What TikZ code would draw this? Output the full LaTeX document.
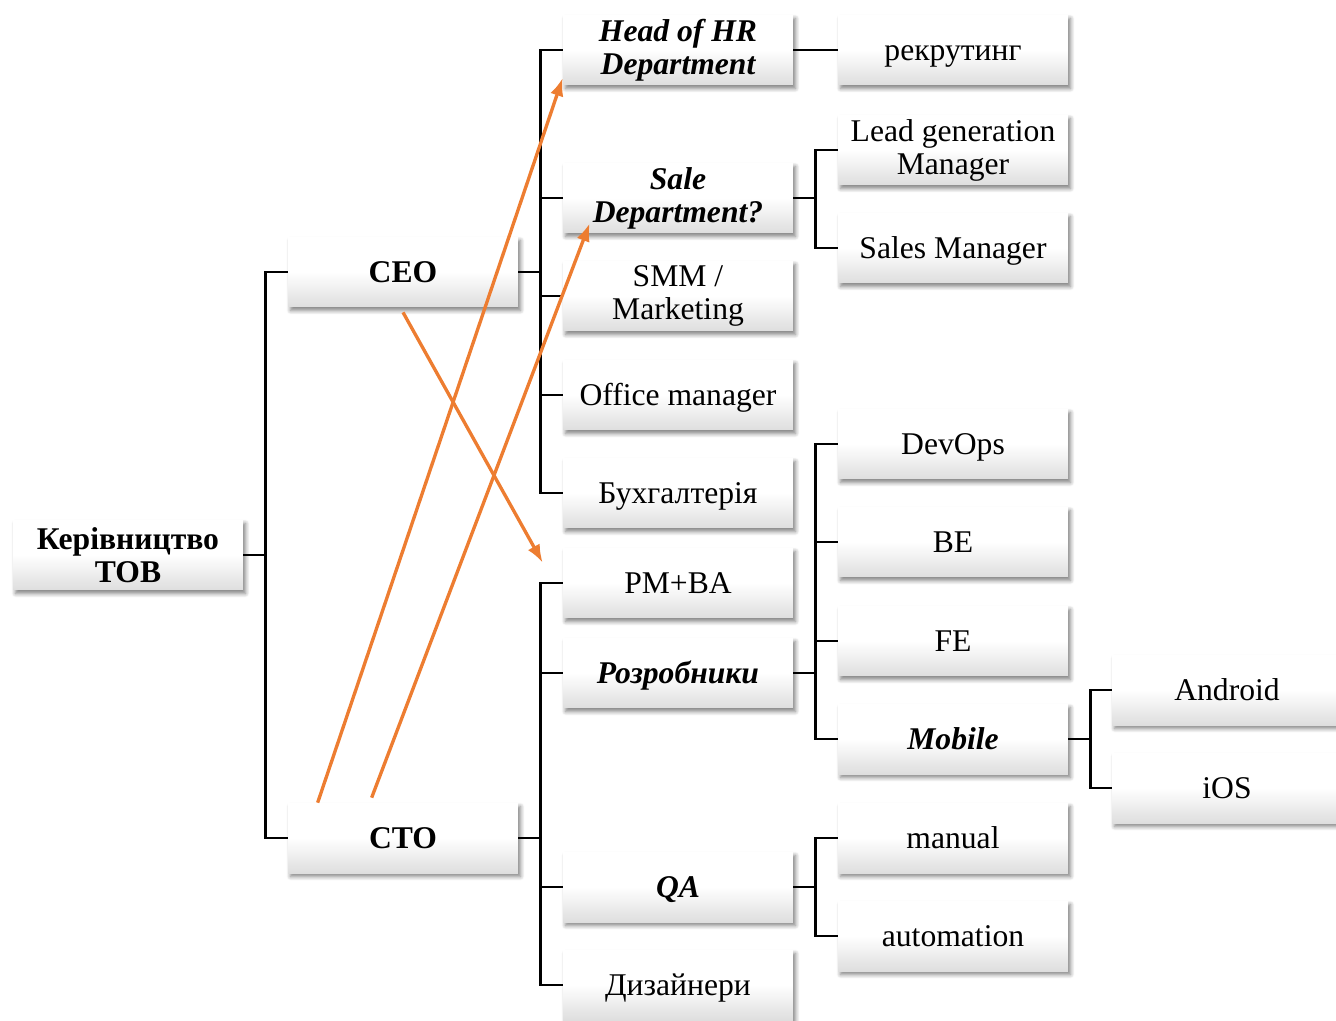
\documentclass[tikz,border=0pt]{standalone}
\usepackage{fontspec}
\setmainfont{Liberation Serif}
\usepackage{xcolor}
\usetikzlibrary{shadows,shadows.blur,calc,arrows.meta}
\definecolor{arrorange}{RGB}{237,125,49}

\begin{document}
\begin{tikzpicture}[x=0.02cm, y=-0.02cm,
  box/.style={minimum width=4.6cm, minimum height=1.4cm, inner sep=0pt, align=center,
    top color=white, bottom color=black!13, middle color=white,
    blur shadow={shadow xshift=0.05cm, shadow yshift=-0.07cm, shadow blur radius=0.08cm, shadow blur steps=6, shadow opacity=50},
    text height=16pt, text depth=4pt,
    font=\fontsize{18}{18.8}\selectfont},
  twoline/.style={text height=, text depth=},
  bbox/.style={box, font=\fontsize{18}{18.8}\selectfont\bfseries},
  ibox/.style={box, font=\fontsize{18}{18.8}\selectfont\bfseries\itshape},
  link/.style={line width=1.5pt},
  arr/.style={draw=arrorange, line width=1.9pt, -{Latex[length=0.36cm, width=0.27cm]}}]
  \useasboundingbox (0,0) rectangle (1336,1021);

  % Top
  \node[bbox, twoline] (top) at (128,555) {Керівництво\\ТОВ};
  \node[bbox] (ceo) at (403,272) {CEO};
  \node[bbox] (cto) at (403,838) {CTO};

  % CEO branch
  \node[ibox, twoline] (hr) at (678,50) {Head of HR\\Department};
  \node[ibox, twoline] (sale) at (678,198) {Sale\\Department?};
  \node[box, twoline] (smm) at (678,296) {SMM /\\Marketing};
  \node[box] (office) at (678,395) {Office manager};
  \node[box] (buh) at (678,493) {Бухгалтерія};

  % CTO branch
  \node[box] (pm) at (678,583) {PM+BA};
  \node[ibox] (dev) at (678,673) {Розробники};
  \node[ibox] (qa) at (678,887) {QA};
  \node[box] (diz) at (678,985) {Дизайнери};

  % Third column
  \node[box] (rec) at (953,50) {рекрутинг};
  \node[box, twoline] (lead) at (953,150) {Lead generation\\Manager};
  \node[box] (sales) at (953,248) {Sales Manager};
  \node[box] (devops) at (953,444) {DevOps};
  \node[box] (be) at (953,542) {BE};
  \node[box] (fe) at (953,641) {FE};
  \node[ibox] (mob) at (953,739) {Mobile};
  \node[box] (manual) at (953,838) {manual};
  \node[box] (auto) at (953,936) {automation};

  % Mobile
  \node[box] (andr) at (1227,690) {Android};
  \node[box] (ios) at (1227,788) {iOS};

  % Links
  \foreach \n in {ceo,cto}
    \draw[link] (top.east) -- ++(22,0) |- (\n.west);
  \foreach \n in {hr,sale,smm,office,buh}
    \draw[link] (ceo.east) -- ++(22,0) |- (\n.west);
  \foreach \n in {pm,dev,qa,diz}
    \draw[link] (cto.east) -- ++(22,0) |- (\n.west);
  \draw[link] (hr.east) -- (rec.west);
  \foreach \n in {lead,sales}
    \draw[link] (sale.east) -- ++(22,0) |- (\n.west);
  \foreach \n in {devops,be,fe,mob}
    \draw[link] (dev.east) -- ++(22,0) |- (\n.west);
  \foreach \n in {manual,auto}
    \draw[link] (qa.east) -- ++(22,0) |- (\n.west);
  \foreach \n in {andr,ios}
    \draw[link] (mob.east) -- ++(22,0) |- (\n.west);

  % Orange arrows
  \draw[arr] ([xshift=0.6cm]cto.north west) -- ([yshift=-0.56cm]hr.west);
  \draw[arr] ([xshift=1.68cm,yshift=0.1cm]cto.north west) -- ([xshift=0.54cm,yshift=0.2cm]sale.south west);
  \draw[arr] ([yshift=-0.1cm]ceo.south) -- ([xshift=-0.4cm,yshift=-0.3cm]pm.north west);
\end{tikzpicture}
\end{document}
